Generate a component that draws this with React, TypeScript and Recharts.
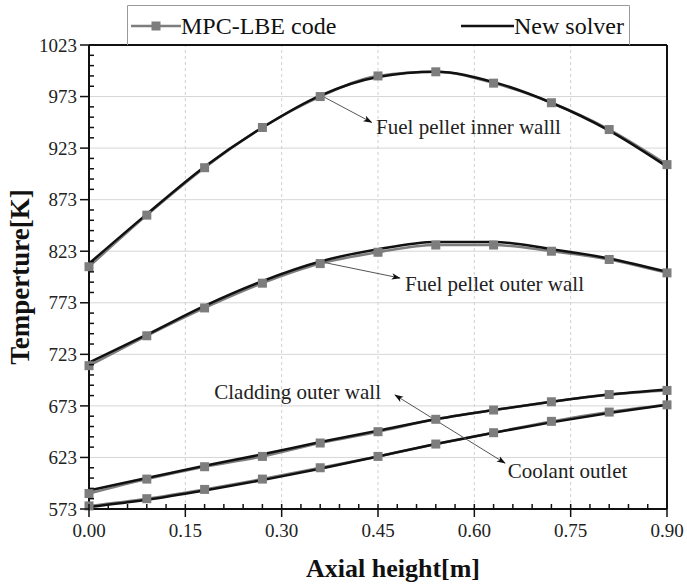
import React from 'react';
import { LineChart, Line, XAxis, YAxis, ReferenceLine, ReferenceDot, Legend } from 'recharts';

// axial positions [m]
const heights = [0, 0.09, 0.18, 0.27, 0.36, 0.45, 0.54, 0.63, 0.72, 0.81, 0.9];

// MPC-LBE code (markers)
const innerMpc = [808, 858, 904, 943, 973, 993, 997, 986, 967, 941, 907];
const outerMpc = [712, 741, 768, 792, 811, 822, 829, 829, 823, 815, 802];
const cladMpc = [588, 602, 614, 624, 637, 648, 660, 669, 677, 684, 688];
const coolMpc = [576, 583, 592, 602, 613, 624, 636, 647, 658, 667, 674];

// New solver (solid line)
const innerNew = [811, 859, 905, 943, 974, 992, 997, 987, 967, 940, 905];
const outerNew = [715, 742, 770, 794, 813, 825, 832, 832, 825, 816, 803];
const cladNew = [591, 603, 615, 626, 638, 649, 660, 669, 677, 684, 689];
const coolNew = [575, 582, 591, 601, 612, 624, 636, 647, 657, 666, 674];

const xMajor = [0, 0.15, 0.3, 0.45, 0.6, 0.75, 0.9];
const xMinor = [0.03, 0.06, 0.09, 0.12, 0.18, 0.21, 0.24, 0.27, 0.33, 0.36, 0.39, 0.42, 0.48, 0.51, 0.54, 0.57, 0.63, 0.66, 0.69, 0.72, 0.78, 0.81, 0.84, 0.87];
const yMajor = [573, 623, 673, 723, 773, 823, 873, 923, 973, 1023];
const yMinor = [583, 593, 603, 613, 633, 643, 653, 663, 683, 693, 703, 713, 733, 743, 753, 763, 783, 793, 803, 813, 833, 843, 853, 863, 883, 893, 903, 913, 933, 943, 953, 963, 983, 993, 1003, 1013];

const data = heights.map((h, i) => ({
  h,
  innerMpc: innerMpc[i], outerMpc: outerMpc[i], cladMpc: cladMpc[i], coolMpc: coolMpc[i],
  innerNew: innerNew[i], outerNew: outerNew[i], cladNew: cladNew[i], coolNew: coolNew[i],
}));

// annotation text + arrows (data coordinates)
const notes = [
  { text: 'Fuel pellet inner walll', x: 0.447, y: 943.5 },
  { text: 'Fuel pellet outer wall', x: 0.492, y: 792 },
  { text: 'Cladding outer wall', x: 0.195, y: 686.5 },
  { text: 'Coolant outlet', x: 0.652, y: 610 },
];
const arrows = [
  [{ x: 0.36, y: 974.5 }, { x: 0.44, y: 948 }],
  [{ x: 0.363, y: 812.5 }, { x: 0.484, y: 797 }],
  [{ x: 0.562, y: 650.5 }, { x: 0.4765, y: 683.5 }],
  [{ x: 0.562, y: 650.5 }, { x: 0.6477, y: 617.5 }],
];

const FONT = 'Liberation Serif, Times New Roman, serif';
const GRAY = '#7d7d7d';

const XTick = (props: any) => {
  const { x, y, payload } = props;
  const major = xMajor.some(v => Math.abs(v - payload.value) < 1e-6);
  if (!major) return <line x1={x} y1={y} x2={x} y2={y - 5} stroke="#111" strokeWidth={1.5} />;
  return (
    <g>
      <line x1={x} y1={y - 5} x2={x} y2={y + 8} stroke="#111" strokeWidth={1.5} />
      <text x={x} y={y + 28} textAnchor="middle" fontFamily={FONT} fontSize={19} fill="#222">
        {payload.value.toFixed(2)}
      </text>
    </g>
  );
};

const YTick = (props: any) => {
  const { x, y, payload } = props;
  const major = yMajor.includes(payload.value);
  if (!major) return <line x1={x} y1={y} x2={x + 5} y2={y} stroke="#111" strokeWidth={1.5} />;
  return (
    <g>
      <line x1={x - 9} y1={y} x2={x} y2={y} stroke="#111" strokeWidth={1.5} />
      <text x={x - 12} y={y} dy="0.35em" textAnchor="end" fontFamily={FONT} fontSize={19} fill="#222">
        {payload.value}
      </text>
    </g>
  );
};

const Square = (props: any) => {
  const { cx, cy, index, dataKey } = props;
  return <rect key={`${dataKey}-${index}`} x={cx - 4.5} y={cy - 4.5} width={9} height={9} fill={GRAY} />;
};

const LegendBox = () => (
  <svg width={503} height={40} style={{ display: 'block' }}>
    <polyline points="0.5,40 0.5,0.5 502.5,0.5 502.5,40" fill="none" stroke="#9a9a9a" strokeWidth={1} />
    <line x1={4} y1={21} x2={54} y2={21} stroke={GRAY} strokeWidth={2.5} />
    <rect x={24.5} y={16.5} width={9} height={9} fill={GRAY} />
    <text x={54} y={29} fontFamily={FONT} fontSize={24} fill="#111">MPC-LBE code</text>
    <line x1={334} y1={21} x2={387} y2={21} stroke="#111" strokeWidth={2.5} />
    <text x={387} y={29} fontFamily={FONT} fontSize={24} fill="#111">New solver</text>
  </svg>
);

export default function App() {
  return (
    <div style={{ position: 'absolute', left: 0, top: 0, width: 687, height: 584, background: '#fff' }}>
      <LineChart width={687} height={584} data={data} margin={{ top: 5, right: 20, bottom: 0, left: 0 }}>
        <defs>
          <marker id="arrowHead" viewBox="0 0 10 10" refX="9" refY="5" markerWidth="9" markerHeight="9" orient="auto-start-reverse" markerUnits="userSpaceOnUse">
            <path d="M0,1.5 L10,5 L0,8.5 L2.5,5 Z" fill="#111" />
          </marker>
        </defs>
        <XAxis
          dataKey="h"
          type="number"
          domain={[0, 0.9]}
          ticks={[...xMajor, ...xMinor].sort((a, b) => a - b)}
          interval={0}
          height={75}
          tickSize={0}
          tickMargin={0}
          tickLine={false}
          axisLine={{ stroke: '#111', strokeWidth: 2 }}
          tick={<XTick />}
          label={{ value: 'Axial height[m]', position: 'insideBottom', offset: 7, dx: 15, style: { fontFamily: FONT, fontSize: 26, fontWeight: 'bold', fill: '#111' } }}
        />
        <YAxis
          type="number"
          domain={[573, 1023]}
          ticks={[...yMajor, ...yMinor].sort((a, b) => a - b)}
          interval={0}
          width={89}
          tickSize={0}
          tickMargin={0}
          tickLine={false}
          axisLine={{ stroke: '#111', strokeWidth: 2 }}
          tick={<YTick />}
          label={{ value: 'Temperture[K]', angle: -90, position: 'insideLeft', offset: 19, style: { textAnchor: 'middle', fontFamily: FONT, fontSize: 27, fontWeight: 'bold', fill: '#111' } }}
        />
        {yMajor.slice(1, -1).map(v => (
          <ReferenceLine key={`gy${v}`} y={v} stroke="#d6d6d6" strokeWidth={1} />
        ))}
        {xMajor.slice(1, -1).map(v => (
          <ReferenceLine key={`gx${v}`} x={v} stroke="#cfcfcf" strokeWidth={1} strokeDasharray="3 3" />
        ))}
        <ReferenceLine y={1023} stroke="#111" strokeWidth={2} />
        <ReferenceLine x={0.9} stroke="#111" strokeWidth={2} />
        <Legend verticalAlign="top" content={<LegendBox />} wrapperStyle={{ left: 127, top: 5, width: 503, height: 40 }} />

        <Line type="monotone" dataKey="innerMpc" stroke={GRAY} strokeWidth={2.5} dot={<Square />} legendType="none" isAnimationActive={false} />
        <Line type="monotone" dataKey="outerMpc" stroke={GRAY} strokeWidth={2.5} dot={<Square />} legendType="none" isAnimationActive={false} />
        <Line type="monotone" dataKey="cladMpc" stroke={GRAY} strokeWidth={2.5} dot={<Square />} legendType="none" isAnimationActive={false} />
        <Line type="monotone" dataKey="coolMpc" stroke={GRAY} strokeWidth={2.5} dot={<Square />} legendType="none" isAnimationActive={false} />
        <Line type="monotone" dataKey="innerNew" stroke="#111" strokeWidth={2.5} dot={false} legendType="none" isAnimationActive={false} />
        <Line type="monotone" dataKey="outerNew" stroke="#111" strokeWidth={2.5} dot={false} legendType="none" isAnimationActive={false} />
        <Line type="monotone" dataKey="cladNew" stroke="#111" strokeWidth={2.5} dot={false} legendType="none" isAnimationActive={false} />
        <Line type="monotone" dataKey="coolNew" stroke="#111" strokeWidth={2.5} dot={false} legendType="none" isAnimationActive={false} />

        {arrows.map((seg, i) => (
          <ReferenceLine key={`ar${i}`} segment={seg} stroke="#555" strokeWidth={1} markerEnd="url(#arrowHead)" />
        ))}
        {notes.map(n => (
          <ReferenceDot
            key={n.text}
            x={n.x}
            y={n.y}
            r={0}
            fill="none"
            stroke="none"
            label={{ value: n.text, position: 'right', offset: 0, style: { fontFamily: FONT, fontSize: 21, fill: '#222' } }}
          />
        ))}
      </LineChart>
    </div>
  );
}
